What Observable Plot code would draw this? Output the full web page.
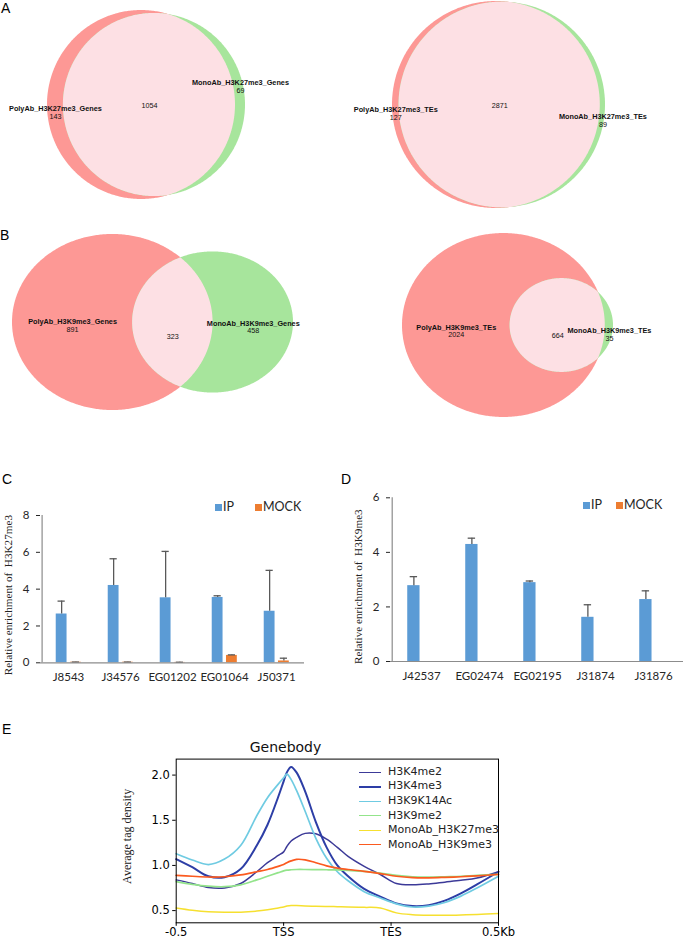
<!DOCTYPE html>
<html><head><meta charset="utf-8">
<script src="https://cdn.jsdelivr.net/npm/d3@7"></script>
<script src="https://cdn.jsdelivr.net/npm/@observablehq/plot@0.6"></script>
<style>
body{margin:0;background:#fff;}
#root{position:relative;width:685px;height:939px;overflow:hidden;background:#fff;font-family:"Liberation Sans",Arial,sans-serif;}
.letter{position:absolute;font-size:14px;line-height:14px;color:#000;font-family:"Liberation Sans",Arial,sans-serif;}
.leg{position:absolute;font-family:Lato,sans-serif;font-size:12.5px;line-height:14px;color:#262626;white-space:nowrap;}
.sq{position:absolute;width:7px;height:7px;}
.eleg{position:absolute;font-family:"DejaVu Sans",sans-serif;font-size:11px;line-height:12px;color:#222;white-space:nowrap;}
.eline{position:absolute;height:0;width:22px;}
</style></head><body><div id="root"></div>
<script>
// ---------- DATA ----------
// Venn diagrams (A left, A right, B left, B right)
const vennSetA = ["PolyAb_H3K27me3_Genes", "PolyAb_H3K27me3_TEs", "PolyAb_H3K9me3_Genes", "PolyAb_H3K9me3_TEs"];
const vennSetB = ["MonoAb_H3K27me3_Genes", "MonoAb_H3K27me3_TEs", "MonoAb_H3K9me3_Genes", "MonoAb_H3K9me3_TEs"];
const vennOnlyA = [143, 127, 891, 2024];
const vennOnlyB = [69, 89, 458, 35];
const vennBoth = [1054, 2871, 323, 664];

// Panel C
const catsC = ["J8543", "J34576", "EG01202", "EG01064", "J50371"];
const ipC = [2.65, 4.2, 3.53, 3.55, 2.8];
const ipErrC = [0.7, 1.45, 2.52, 0.09, 2.22];
const mockC = [0.03, 0.03, 0.02, 0.4, 0.1];
const mockErrC = [0.01, 0.01, 0.01, 0.03, 0.15];
const ticksC = [0, 2, 4, 6, 8];

// Panel D
const catsD = ["J42537", "EG02474", "EG02195", "J31874", "J31876"];
const ipD = [2.78, 4.29, 2.89, 1.62, 2.27];
const ipErrD = [0.33, 0.23, 0.06, 0.46, 0.32];
const mockD = [0, 0, 0, 0, 0];
const mockErrD = [0, 0, 0, 0, 0];
const ticksD = [0, 2, 4, 6];

const seriesNames = ["IP", "MOCK"];

// Panel E (profile over gene body: 0 = -0.5kb, 100 = TSS, 200 = TES, 300 = +0.5kb)
const profileX = [0, 15, 30, 45, 60, 75, 85, 95, 100, 103, 107, 112, 120, 130, 140, 150, 160, 175, 190, 205, 220, 235, 250, 265, 280, 300];
const profileTicks = [0, 100, 200, 300];
const profileTickLabels = ["-0.5", "TSS", "TES", "0.5Kb"];
const profileYTicks = [0.5, 1.0, 1.5, 2.0];
const profileNames = ["H3K4me2", "H3K4me3", "H3K9K14Ac", "H3K9me2", "MonoAb_H3K27me3", "MonoAb_H3K9me3"];
const h3k4me2 = [0.84, 0.80, 0.755, 0.75, 0.80, 0.93, 1.03, 1.11, 1.15, 1.21, 1.27, 1.31, 1.355, 1.35, 1.29, 1.2, 1.1, 0.99, 0.9, 0.80, 0.785, 0.795, 0.815, 0.835, 0.86, 0.93];
const h3k4me3 = [1.07, 0.98, 0.88, 0.87, 0.96, 1.22, 1.45, 1.76, 1.93, 2.03, 2.09, 2.03, 1.82, 1.48, 1.2, 1.0, 0.88, 0.74, 0.655, 0.58, 0.55, 0.56, 0.61, 0.69, 0.79, 0.93];
const h3k9k14ac = [1.13, 1.06, 1.01, 1.07, 1.22, 1.55, 1.75, 1.90, 1.97, 2.01, 1.95, 1.83, 1.6, 1.3, 1.08, 0.93, 0.83, 0.71, 0.64, 0.575, 0.54, 0.55, 0.59, 0.66, 0.75, 0.88];
const h3k9me2 = [0.82, 0.79, 0.77, 0.765, 0.785, 0.84, 0.88, 0.92, 0.94, 0.948, 0.952, 0.955, 0.955, 0.953, 0.952, 0.95, 0.945, 0.935, 0.915, 0.89, 0.875, 0.87, 0.875, 0.88, 0.89, 0.9];
const monoH3k27me3 = [0.53, 0.505, 0.488, 0.482, 0.483, 0.495, 0.51, 0.53, 0.54, 0.55, 0.557, 0.556, 0.552, 0.548, 0.546, 0.543, 0.54, 0.536, 0.53, 0.475, 0.455, 0.448, 0.448, 0.452, 0.458, 0.468];
const monoH3k9me3 = [0.89, 0.88, 0.872, 0.875, 0.895, 0.93, 0.955, 0.99, 1.01, 1.03, 1.05, 1.067, 1.062, 1.03, 0.995, 0.97, 0.955, 0.935, 0.91, 0.88, 0.865, 0.863, 0.868, 0.875, 0.885, 0.9];

// ---------- LAYOUT / STYLE ----------
const root = document.getElementById("root");
function place(node, left, top) {
  node.style.position = "absolute"; node.style.left = left + "px"; node.style.top = top + "px";
  root.appendChild(node);
}
function div(cls, left, top, text, extra = {}) {
  const d = document.createElement("div"); d.className = cls;
  d.style.left = left + "px"; d.style.top = top + "px";
  if (text != null) d.textContent = text;
  Object.assign(d.style, extra);
  root.appendChild(d); return d;
}

const RED = "#fd9895", GREEN = "#a7e59c", PINK = "#fde0e4";

function lensArea(r1, r2, d) {
  if (d >= r1 + r2) return 0;
  if (d <= Math.abs(r1 - r2)) return Math.PI * Math.min(r1, r2) ** 2;
  const a = r1 * r1 * Math.acos((d * d + r1 * r1 - r2 * r2) / (2 * d * r1));
  const b = r2 * r2 * Math.acos((d * d + r2 * r2 - r1 * r1) / (2 * d * r2));
  const c = 0.5 * Math.sqrt((-d + r1 + r2) * (d + r1 - r2) * (d - r1 + r2) * (d + r1 + r2));
  return a + b - c;
}

// svg placement and pixel box of the union [left, right, top, bottom]; label offsets in px
const vennLayout = [
  {left: 0, top: 0, w: 340, h: 212, box: [47, 245, 10, 199], dA: [4, 12], dBoth: 0.5, dB: [-22, -14]},
  {left: 340, top: 0, w: 345, h: 212, box: [392, 605, 1, 208], dA: [5, 13], dBoth: 0.5, dB: [12, 20]},
  {left: 0, top: 225, w: 340, h: 200, box: [12, 293, 234, 410], dA: [-0.5, 7], dBoth: 13.7, dB: [1, 8.5]},
  {left: 340, top: 225, w: 345, h: 200, box: [402, 613, 233, 417], dA: [2, 9.5], dBoth: 10, dB: [5.5, 13]}
];

function venn(i) {
  const L = vennLayout[i];
  const nA = vennOnlyA[i] + vennBoth[i], nB = vennOnlyB[i] + vennBoth[i];
  const r1 = Math.sqrt(nA / Math.PI), r2 = Math.sqrt(nB / Math.PI);
  let lo = Math.abs(r1 - r2) + 1e-9, hi = r1 + r2;
  for (let k = 0; k < 80; k++) { const m = (lo + hi) / 2; if (lensArea(r1, r2, m) > vennBoth[i]) lo = m; else hi = m; }
  const d = (lo + hi) / 2;
  const R = Math.max(r1, r2);
  const N = 240;
  const circ = (cx, r) => d3.range(N + 1).map(k => { const t = Math.PI * k / N; return {x: cx + r * Math.cos(t), y1: -r * Math.sin(t), y2: r * Math.sin(t)}; });
  const xa = Math.max(-r1, d - r2), xb = Math.min(r1, d + r2);
  const lens = d3.range(N + 1).map(k => {
    const t = Math.PI * k / N; const x = (xa + xb) / 2 + (xb - xa) / 2 * Math.cos(t);
    const h = Math.min(Math.sqrt(Math.max(0, r1 * r1 - x * x)), Math.sqrt(Math.max(0, r2 * r2 - (x - d) ** 2)));
    return {x, y1: -h, y2: h};
  });
  const aX = (-r1 + xa) / 2, bothX = (xa + xb) / 2, bX = (xb + d + r2) / 2;
  const txt = (x, dy, s, bold) => Plot.text([{x, y: 0, s}], {x: "x", y: "y", text: "s", dy, fontSize: bold ? 7.3 : 7.2, fontWeight: bold ? "bold" : "normal", fontFamily: "Liberation Sans, Arial, sans-serif", fill: "#111"});
  const svg = Plot.plot({
    width: L.w, height: L.h, margin: 0,
    x: {domain: [-r1, d + r2], range: [L.box[0] - L.left, L.box[1] - L.left], axis: null},
    y: {domain: [-R, R], range: [L.box[3] - L.top, L.box[2] - L.top], axis: null},
    marks: [
      Plot.areaY(circ(0, r1), {x: "x", y1: "y1", y2: "y2", fill: RED}),
      Plot.areaY(circ(d, r2), {x: "x", y1: "y1", y2: "y2", fill: GREEN}),
      Plot.areaY(lens, {x: "x", y1: "y1", y2: "y2", fill: PINK}),
      txt(aX, L.dA[0], vennSetA[i], true),
      txt(aX, L.dA[1], String(vennOnlyA[i]), false),
      txt(bothX, L.dBoth, String(vennBoth[i]), false),
      txt(bX, L.dB[0], vennSetB[i], true),
      txt(bX, L.dB[1], String(vennOnlyB[i]), false)
    ]
  });
  place(svg, L.left, L.top);
}
for (let i = 0; i < 4; i++) venn(i);

// ---------- Bar panels ----------
const IPCOL = "#5b9bd5", MOCKCOL = "#ed7d31", ERRCOL = "#595959", AXCOL = "#8c8c8c";
function barPanel({cats, ip, ipErr, mock, mockErr, ticks, ylabel, left, top, width, height, mL, mR, mT, mB, labDx, labDy}) {
  const rows = cats.map((c, i) => ({cat: c, ip: ip[i], ipHi: ip[i] + ipErr[i], mock: mock[i], mockHi: mock[i] + mockErr[i], ipE: ipErr[i], mockE: mockErr[i]}));
  const bw = (width - mL - mR) / cats.length;
  const ipA = 0.26, ipB = 0.48, mA = 0.53, mB2 = 0.75;
  const ipMid = (ipA + ipB) / 2, mMid = (mA + mB2) / 2;
  const cap = 4;
  const yMax = ticks[ticks.length - 1];
  const svg = Plot.plot({
    width, height, marginLeft: mL, marginRight: mR, marginTop: mT, marginBottom: mB,
    style: {fontFamily: "Lato, sans-serif", fontSize: "11.5px", color: "#262626", background: "transparent"},
    x: {domain: cats, padding: 0, tickSize: 0, tickPadding: 10, label: null},
    y: {domain: [0, yMax], ticks, tickFormat: d => String(d), tickSize: 4, tickPadding: 7, label: null},
    marks: [
      Plot.barY(rows, {x: "cat", y: "ip", fill: IPCOL, insetLeft: ipA * bw, insetRight: (1 - ipB) * bw}),
      Plot.barY(rows, {x: "cat", y: "mock", fill: MOCKCOL, insetLeft: mA * bw, insetRight: (1 - mB2) * bw}),
      Plot.ruleX(rows.filter(r => r.ipE > 0), {x: "cat", y1: "ip", y2: "ipHi", dx: (ipMid - 0.5) * bw, stroke: ERRCOL, strokeWidth: 1.3}),
      Plot.tickY(rows.filter(r => r.ipE > 0), {x: "cat", y: "ipHi", insetLeft: ipMid * bw - cap, insetRight: (1 - ipMid) * bw - cap, stroke: ERRCOL, strokeWidth: 1.3}),
      Plot.ruleX(rows.filter(r => r.mockE > 0), {x: "cat", y1: "mock", y2: "mockHi", dx: (mMid - 0.5) * bw, stroke: ERRCOL, strokeWidth: 1.3}),
      Plot.tickY(rows.filter(r => r.mockE > 0), {x: "cat", y: "mockHi", insetLeft: mMid * bw - cap, insetRight: (1 - mMid) * bw - cap, stroke: ERRCOL, strokeWidth: 1.3}),
      Plot.ruleY([0], {stroke: AXCOL, strokeWidth: 1.2}),
      Plot.ruleX([cats[0]], {dx: -bw / 2, stroke: AXCOL, strokeWidth: 1.2}),
      Plot.text([ylabel], {frameAnchor: "left", textAnchor: "middle", lineAnchor: "middle", rotate: -90, dx: labDx, dy: labDy, fontFamily: "Liberation Serif, Times New Roman, serif", fontSize: 11.2, fill: "#222"})
    ]
  });
  place(svg, left, top);
}

barPanel({cats: catsC, ip: ipC, ipErr: ipErrC, mock: mockC, mockErr: mockErrC, ticks: ticksC,
  ylabel: "Relative enrichment of  H3K27me3", left: 0, top: 490, width: 340, height: 200,
  mL: 40, mR: 36, mT: 25, mB: 27.7, labDx: -32, labDy: 6});
barPanel({cats: catsD, ip: ipD, ipErr: ipErrD, mock: mockD, mockErr: mockErrD, ticks: ticksD,
  ylabel: "Relative enrichment of  H3K9me3", left: 340, top: 490, width: 345, height: 200,
  mL: 50, mR: 2, mT: 7.3, mB: 29, labDx: -32, labDy: 7});

// legends C & D
function barLegend(x0, y0, x1) {
  div("sq", x0, y0, null, {background: IPCOL});
  div("leg", x0 + 8, y0 - 4, seriesNames[0]);
  div("sq", x1, y0, null, {background: MOCKCOL});
  div("leg", x1 + 8, y0 - 4, seriesNames[1]);
}
barLegend(215, 504, 255);
barLegend(583, 502, 616);

// ---------- Panel E ----------
const profileSeries = [h3k4me2, h3k4me3, h3k9k14ac, h3k9me2, monoH3k27me3, monoH3k9me3];
const profileColors = ["#3c3a98", "#2d3ea6", "#6fcbe2", "#93e48b", "#f6e030", "#fb5a1f"];
const profileWidths = [1.5, 2, 1.7, 1.7, 1.5, 1.7];
const eW = 420, eH = 209, eL = 100, eT = 730;
const eML = 75.7, eMR = 22, eMT = 28.6, eMB = 16.7;
const svgE = Plot.plot({
  width: eW, height: eH, marginLeft: eML, marginRight: eMR, marginTop: eMT, marginBottom: eMB,
  style: {fontFamily: "DejaVu Sans, sans-serif", fontSize: "11.5px", color: "#000", background: "transparent"},
  x: {domain: [0, 300], ticks: profileTicks, tickFormat: d => profileTickLabels[profileTicks.indexOf(d)], tickSize: 3.5, tickPadding: 2, label: null},
  y: {domain: [0.365, 2.177], ticks: profileYTicks, tickFormat: d3.format(".1f"), tickSize: 3.5, tickPadding: 3, label: null},
  marks: [
    ...profileSeries.map((s, k) => Plot.line(profileX.map((x, i) => ({x, y: s[i]})), {x: "x", y: "y", stroke: profileColors[k], strokeWidth: profileWidths[k], curve: "catmull-rom"})),
    Plot.frame({stroke: "#000", strokeWidth: 1}),
    Plot.text(["Average tag density"], {frameAnchor: "left", textAnchor: "middle", lineAnchor: "middle", rotate: -90, dx: -49, dy: -4.6, fontFamily: "Liberation Serif, Times New Roman, serif", fontSize: 12, fill: "#222"}),
    Plot.text(["Genebody"], {frameAnchor: "top", textAnchor: "middle", lineAnchor: "middle", dx: 285 - (eL + eML + (eW - eML - eMR) / 2), dy: -12, fontSize: 14, fill: "#111"})
  ]
});
place(svgE, eL, eT);

profileNames.forEach((n, k) => {
  const y = 772.3 + 14.6 * k;
  div("eline", 359, y - profileWidths[k] / 2, null, {borderTop: profileWidths[k] + "px solid " + profileColors[k]});
  div("eleg", 388, y - 6.5, n);
});

// panel letters
div("letter", 1, 1, "A");
div("letter", 0, 228, "B");
div("letter", 2, 472, "C");
div("letter", 341, 472, "D");
div("letter", 2, 722, "E");
</script></body></html>
